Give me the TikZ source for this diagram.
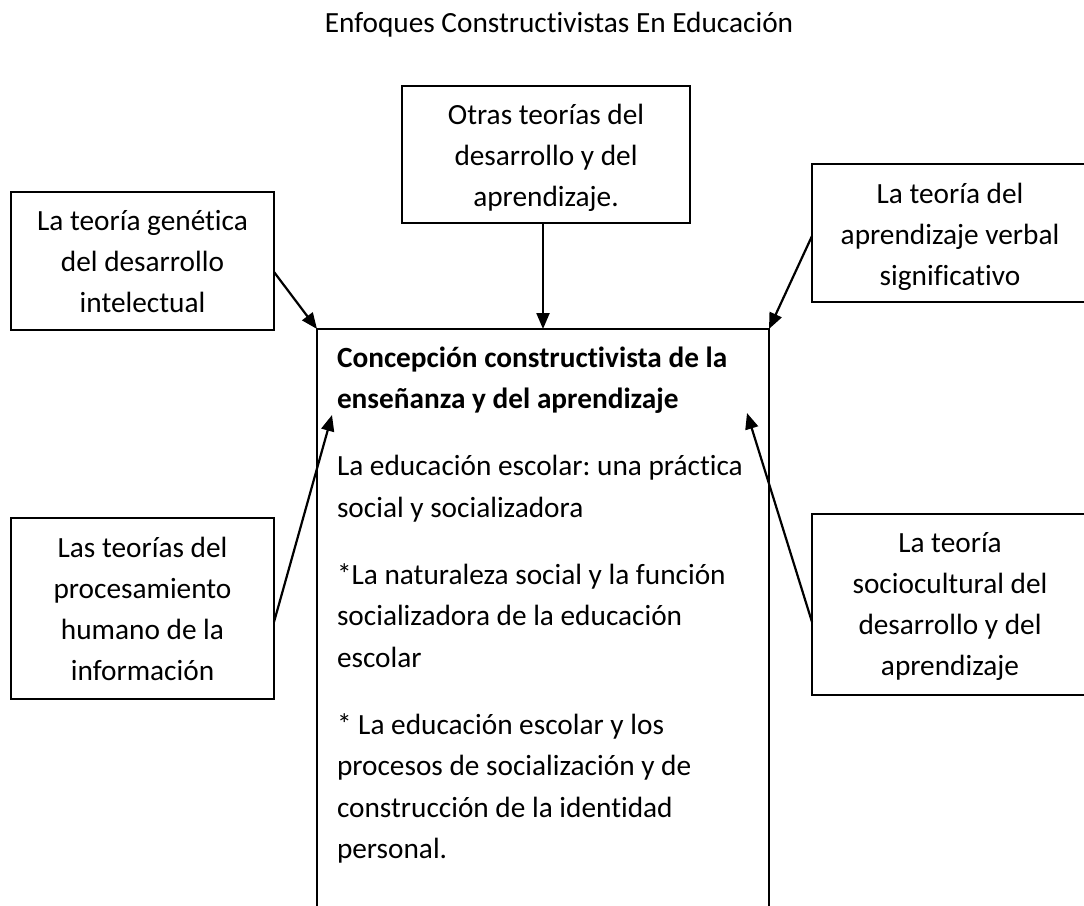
\documentclass[tikz,border=0pt]{standalone}
\usepackage{fontspec}
\setmainfont{Carlito}[Ligatures=NoCommon]
\frenchspacing
\usetikzlibrary{arrows.meta}
\begin{document}
\begin{tikzpicture}[x=1pt,y=-1pt,
  box/.style={draw, line width=2pt, inner sep=0pt, outer sep=0pt},
  txt/.style={inner sep=0pt, outer sep=0pt, anchor=base, font=\fontsize{29.3}{41.1}\selectfont},
  arr/.style={-{Triangle[length=16pt,width=13pt]}, line width=2.2pt}]
\useasboundingbox[fill=white] (0,0) rectangle (1084,905);

% title
\node[txt] (title) at (559,32) {Enfoques Constructivistas En Educación};

% boxes
\node[box, minimum width=288pt, minimum height=137pt] (tb) at (546,154.5) {};
\node[box, minimum width=263pt, minimum height=138pt] (lt) at (142.5,261) {};
\node[box, minimum width=276pt, minimum height=138pt] (rt) at (950,233) {};
\node[box, minimum width=263pt, minimum height=181pt] (lb) at (142.5,608.5) {};
\node[box, minimum width=276pt, minimum height=181pt] (rb) at (950,604.5) {};
\node[box, minimum width=452pt, minimum height=631pt] (cb) at (543,644.5) {};

% texts
\node[txt] (tbt) at (546,124) {\begin{tabular}[t]{@{}c@{}}Otras teorías del\\desarrollo y del\\aprendizaje.\end{tabular}};
\node[txt] (ltt) at (142.5,230) {\begin{tabular}[t]{@{}c@{}}La teoría genética\\del desarrollo\\intelectual\end{tabular}};
\node[txt] (rtt) at (950,203) {\begin{tabular}[t]{@{}c@{}}La teoría del\\aprendizaje verbal\\significativo\end{tabular}};
\node[txt] (lbt) at (142.5,557) {\begin{tabular}[t]{@{}c@{}}Las teorías del\\procesamiento\\humano de la\\información\end{tabular}};
\node[txt] (rbt) at (950,552) {\begin{tabular}[t]{@{}c@{}}La teoría\\sociocultural del\\desarrollo y del\\aprendizaje\end{tabular}};
\node[txt, anchor=base west] (cbt) at (337,367) {\begin{tabular}[t]{@{}l@{}}\textbf{Concepción constructivista de la}\\
\textbf{enseñanza y del aprendizaje}\\[26.7pt]
La educación escolar: una práctica\\
social y socializadora\\[26.7pt]
{*}La naturaleza social y la función\\
socializadora de la educación\\
escolar\\[26.7pt]
{*} La educación escolar y los\\
procesos de socialización y de\\
construcción de la identidad\\
personal.\end{tabular}};

% connectors
\draw[arr] (cb.north |- tb.south) -- (cb.north);
\draw[arr] ([yshift=-11pt]lt.east) -- (cb.north west);
\draw[arr] ([yshift=-3pt]rt.west) -- (cb.north east);
\draw[arr] ([yshift=-13.5pt]lb.east) -- ([shift={(15pt,-86pt)}]cb.north west);
\draw[arr] ([yshift=-17.5pt]rb.west) -- ([shift={(-22pt,-84pt)}]cb.north east);
\end{tikzpicture}
\end{document}
